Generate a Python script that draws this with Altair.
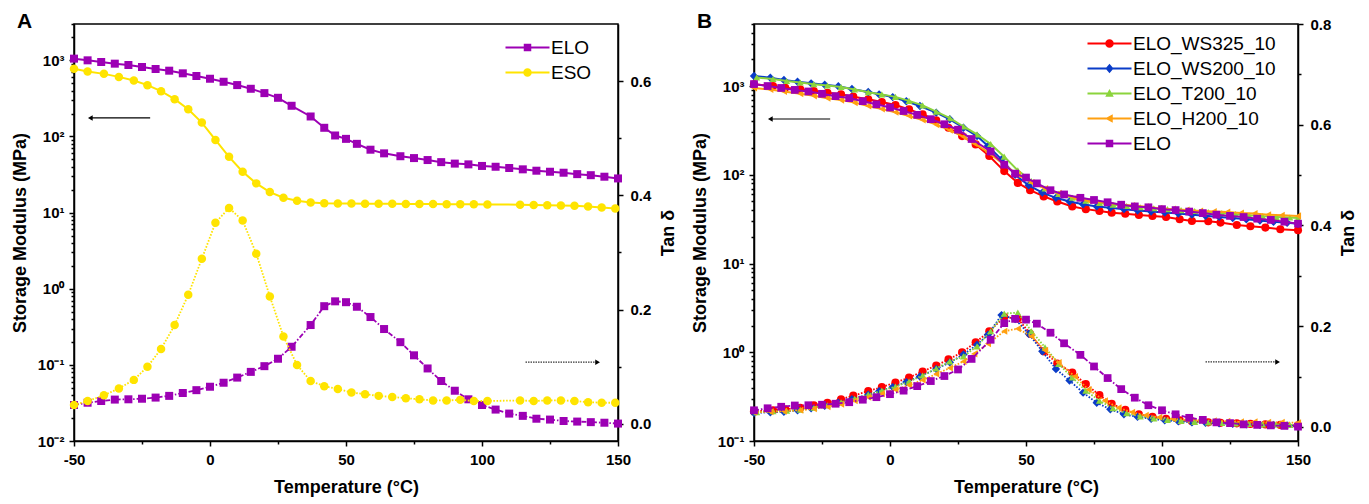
import altair as alt
import pandas as pd

FONT = "Liberation Sans"

# ---------------- Panel A data ----------------
elo_T = [-50, -45, -40, -35, -30, -25, -20, -15, -10, -5, 0, 5, 10, 15, 20, 25, 30, 37, 42, 46,
         50, 54, 59, 64, 70, 75, 80, 85, 90, 95, 100, 105, 110, 115, 120, 125, 130, 135, 140, 145, 150]
elo_E = [1052, 1000, 951, 904, 868, 817, 769, 731, 675, 622, 573, 523, 473, 423, 371, 322, 253, 183, 130, 103,
         93, 80, 67, 60, 55, 52, 49, 46, 44, 43, 41, 40, 38.5, 37, 35.5, 34.4, 33.4, 32, 31, 29.6, 28.1]
elo_tan = [0.033, 0.037, 0.040, 0.0425, 0.043, 0.044, 0.046, 0.049, 0.054, 0.059, 0.065, 0.072, 0.081, 0.091,
           0.101, 0.114, 0.135, 0.173, 0.206, 0.2145, 0.213, 0.205, 0.187, 0.166, 0.143, 0.120, 0.097, 0.075,
           0.058, 0.043, 0.033, 0.025, 0.018, 0.014, 0.009, 0.0075, 0.005, 0.004, 0.003, 0.002, 0.0005]

eso_T = [-50, -45, -39, -33.5, -28, -23, -18, -13, -8, -3, 2, 7, 12, 17, 22, 27, 32, 37, 42, 47,
         52, 57, 62, 67, 72, 77, 82, 87, 92, 97, 102, 114, 119, 124, 129, 134, 139, 144, 149]
eso_E = [773, 713, 664, 606, 542, 472, 393, 309, 228, 152, 90, 54, 34.4, 24.2, 18.6, 15.7, 14.3, 13.6, 13.3, 13.2,
         13.2, 13.1, 13.1, 13.1, 13.0, 13.0, 13.0, 12.9, 12.9, 12.9, 12.8, 12.7, 12.6, 12.5, 12.4, 12.3, 12.0, 11.7, 11.3]
eso_tan = [0.033, 0.040, 0.050, 0.062, 0.077, 0.100, 0.131, 0.173, 0.226, 0.289, 0.352, 0.378, 0.356, 0.298,
           0.223, 0.153, 0.103, 0.075, 0.066, 0.061, 0.055, 0.052, 0.049, 0.047, 0.045, 0.043, 0.041, 0.041,
           0.042, 0.040, 0.040, 0.041, 0.040, 0.041, 0.041, 0.040, 0.038, 0.037, 0.037]

# ---------------- Panel B data ----------------
ws325_T = [-50, -43, -38.5, -33, -28, -23, -18, -13.5, -8, -3, 2, 7, 12, 17, 21.5, 26.5, 31.5, 36.5, 42, 47,
           51.5, 56.5, 61.5, 67, 72, 77, 81.5, 86.5, 91.5, 96.5, 101.5, 106.5, 111, 117, 121.5, 127.5, 132.5,
           138, 143.5, 150]
ws325_E = [1045, 1000, 957, 917, 879, 841, 806, 759, 708, 661, 611, 546, 480, 411, 339, 273, 220, 163, 110, 81,
           67, 57, 50, 44, 41, 39, 37.4, 36.4, 35.2, 34.3, 33.5, 31.5, 30.1, 29.9, 28.9, 27.2, 26.3, 25.4, 24.3, 23.7]
ws325_tan = [0.031, 0.033, 0.035, 0.038, 0.043, 0.048, 0.055, 0.062, 0.071, 0.079, 0.088, 0.098, 0.110, 0.122,
             0.134, 0.148, 0.168, 0.190, 0.218, 0.215, 0.185, 0.150, 0.126, 0.108, 0.085, 0.063, 0.046, 0.034,
             0.025, 0.020, 0.016, 0.013, 0.011, 0.009, 0.008, 0.007, 0.006, 0.005, 0.004, 0.003]

ws200_T = [-50, -44, -39, -34, -29, -24, -19, -14, -8, -4, 1, 6, 11, 17, 22, 27, 32, 36, 41, 46,
           51, 56, 61, 66, 71, 76, 81, 86, 91, 96, 101, 106, 111, 116, 121, 126, 131, 136, 141, 146, 150]
ws200_E = [1297, 1241, 1169, 1119, 1072, 1035, 993, 925, 856, 806, 751, 673, 596, 501, 422, 339, 273, 211, 149, 100,
           76, 63, 55, 50, 46.5, 44, 42.5, 41, 39.5, 38.5, 37.5, 36.5, 35.5, 34.5, 33.5, 32.5, 31.5, 30.5, 29.5,
           28.8, 28]
ws200_tan = [0.028, 0.029, 0.030, 0.033, 0.037, 0.042, 0.048, 0.055, 0.064, 0.071, 0.079, 0.089, 0.100, 0.115,
             0.128, 0.144, 0.163, 0.183, 0.222, 0.214, 0.185, 0.150, 0.115, 0.092, 0.068, 0.048, 0.035, 0.025,
             0.020, 0.016, 0.013, 0.011, 0.009, 0.008, 0.007, 0.006, 0.005, 0.004, 0.004, 0.003, 0.003]

t200_T = [-49, -43, -38, -33, -28, -23, -18, -13, -8, -3, 2, 7, 12, 17, 22, 27, 32, 37, 42, 47,
          52, 57, 62, 67, 72, 77, 82, 87, 92, 97, 102, 107, 112, 117, 122, 127, 132, 137, 142, 147, 150]
t200_E = [1250, 1200, 1140, 1095, 1050, 1015, 975, 915, 850, 805, 755, 680, 605, 515, 435, 350, 285, 222, 160, 112,
          85, 70, 61, 55, 51, 48, 46, 44.5, 43, 42, 41, 40, 39, 38, 37, 36, 35, 34.2, 33.5, 33, 32.5]
t200_tan = [0.029, 0.031, 0.032, 0.034, 0.038, 0.043, 0.049, 0.056, 0.064, 0.072, 0.080, 0.090, 0.102, 0.116,
            0.130, 0.140, 0.160, 0.190, 0.225, 0.227, 0.190, 0.158, 0.125, 0.098, 0.072, 0.052, 0.037, 0.027,
            0.021, 0.017, 0.014, 0.012, 0.010, 0.009, 0.008, 0.007, 0.006, 0.005, 0.005, 0.004, 0.004]

h200_T = [-50, -44, -39, -33, -28, -23, -18, -13, -8, -3, 2, 7, 12, 17, 22, 27, 31, 36, 42, 47,
          52, 57, 62, 68, 73, 79, 84, 89, 94, 99, 104, 109, 114, 119, 124, 129, 134, 139, 144, 150]
h200_E = [950, 915, 866, 818, 775, 730, 694, 650, 597, 552, 507, 460, 415, 367, 318, 268, 225, 180, 130, 100,
          82, 70, 62, 55, 51, 48.5, 46.5, 45, 43.5, 42, 41, 40, 39, 38.5, 38, 37, 36.5, 35.5, 35, 34.4]
h200_tan = [0.029, 0.030, 0.031, 0.033, 0.036, 0.040, 0.045, 0.052, 0.059, 0.066, 0.074, 0.083, 0.093, 0.105,
            0.117, 0.130, 0.145, 0.165, 0.190, 0.195, 0.180, 0.152, 0.128, 0.100, 0.074, 0.052, 0.038, 0.029,
            0.023, 0.019, 0.016, 0.014, 0.013, 0.012, 0.011, 0.010, 0.010, 0.009, 0.009, 0.008]

# annotation arrows (data units)
arrA_mod_T = [-22.0, -44.0]
arrA_mod_E = 175.0
arrA_tan_T = [116.0, 142.5]
arrA_tan_v = 0.108
arrB_mod_T = [-22.0, -44.0]
arrB_mod_E = 425.0
arrB_tan_T = [116.0, 142.5]
arrB_tan_v = 0.129

# axis tick values
x_major_vals = [-50, 0, 50, 100, 150]
x_minor_vals = [-25, 25, 75, 125]
logA_major = [0.01, 0.1, 1, 10, 100, 1000]
logA_minor = [m * d for d in [0.01, 0.1, 1, 10, 100] for m in range(2, 10)] + [2000, 3000]
logB_major = [0.1, 1, 10, 100, 1000]
logB_minor = [m * d for d in [0.1, 1, 10, 100] for m in range(2, 10)] + [2000, 3000, 4000, 5000]
tanA_major = [0.0, 0.2, 0.4, 0.6]
tanA_minor = [0.1, 0.3, 0.5]
tanB_major = [0.0, 0.2, 0.4, 0.6, 0.8]
tanB_minor = [0.1, 0.3, 0.5, 0.7]

C_ELO = "#9C00B4"
C_ESO = "#FFE400"
C_RED = "#FF0000"
C_BLUE = "#0A3CC8"
C_GREEN = "#8BD43C"
C_ORANGE = "#FFA010"

LINE_P = "M-4.4,-0.22H4.4V0.22H-4.4Z"
P_SQUARE = LINE_P + "M-0.75,-0.75H0.75V0.75H-0.75Z"
P_CIRCLE = LINE_P + "M0.85,0A0.85,0.85,0,1,1,-0.85,0A0.85,0.85,0,1,1,0.85,0Z"
P_DIAMOND = LINE_P + "M0,-0.95L0.8,0L0,0.95L-0.8,0Z"
P_TRIUP = LINE_P + "M0,-0.9L0.85,0.65L-0.85,0.65Z"
P_TRILEFT = LINE_P + "M-0.9,0L0.65,-0.85L0.65,0.85Z"

SUP_EXPR = ("'10' + (datum.value > 500 ? '\u00b3' : datum.value > 50 ? '\u00b2' : datum.value > 5 ? '\u00b9' : "
            "datum.value > 0.5 ? '\u2070' : datum.value > 0.05 ? '\u207b\u00b9' : '\u207b\u00b2')")

W, H = 544, 417


def make_panel(label, mod_series, tan_series, log_dom, log_major, log_minor, tan_dom, tan_major, tan_minor,
               leg_names, leg_colors, leg_paths, leg_x, leg_y, arr_mod, arr_tan):
    xs = alt.Scale(domain=[-50, 150], nice=False)
    x_major = alt.X("T:Q", scale=xs, axis=alt.Axis(
        orient="bottom", values=x_major_vals, labelExpr="'' + datum.value", title="Temperature (\u00b0C)",
        tickSize=5, labelPadding=6, titlePadding=11, labelFlush=False, labelOverlap=False, grid=False))
    x_minor = alt.X("T:Q", scale=xs, axis=alt.Axis(
        orient="bottom", values=x_minor_vals, labels=False, domain=False, title=None, tickSize=3, grid=False))
    x_none = alt.X("T:Q", scale=xs, axis=None)

    ys_log = alt.Scale(type="log", domain=log_dom, nice=False)
    y_log = alt.Y("E:Q", scale=ys_log, axis=alt.Axis(
        orient="left", values=log_major, labelExpr=SUP_EXPR, title="Storage Modulus (MPa)", labelFontSize=15,
        tickSize=5, labelPadding=5, titlePadding=8, labelFlush=False, labelOverlap=False, grid=False))
    y_log_minor = alt.Y("E:Q", scale=ys_log, axis=alt.Axis(
        orient="left", values=log_minor, labels=False, domain=False, title=None, tickSize=3, grid=False))

    ys_tan = alt.Scale(domain=tan_dom, nice=False, zero=False)
    y_tan = alt.Y("tan:Q", scale=ys_tan, axis=alt.Axis(
        orient="right", values=tan_major, format=".1f", title="Tan \u03b4", titleAngle=270, titleBaseline="top",
        tickSize=5, labelPadding=7, titlePadding=9, labelFlush=False, labelOverlap=False, grid=False))
    y_tan_minor = alt.Y("tan:Q", scale=ys_tan, axis=alt.Axis(
        orient="right", values=tan_minor, labels=False, domain=False, title=None, tickSize=3, grid=False))

    mod_layers = []
    for (T, E, color, shape, size) in mod_series:
        df = pd.DataFrame({"T": T, "E": E})
        base = alt.Chart(df)
        mod_layers.append(base.mark_line(color=color, strokeWidth=2, clip=False).encode(x=x_major, y=y_log))
        mod_layers.append(base.mark_point(shape=shape, filled=True, size=size, color=color, opacity=1,
                                          clip=False).encode(x=x_major, y=y_log))
    # arrow pointing to the left axis
    adf = pd.DataFrame({"T": [arr_mod[0][0]], "T2": [arr_mod[0][1]], "E": [arr_mod[1]]})
    mod_layers.append(alt.Chart(adf).mark_rule(color="black", strokeWidth=1.2).encode(
        x=x_major, x2="T2:Q", y=y_log))
    hdf = pd.DataFrame({"T": [arr_mod[0][1]], "E": [arr_mod[1]]})
    mod_layers.append(alt.Chart(hdf).mark_point(shape="triangle-left", filled=True, size=30, color="black",
                                                opacity=1).encode(x=x_major, y=y_log))
    # legend (built from the series names through color/shape scales)
    ldf = pd.DataFrame({"name": leg_names, "T": [-300] * len(leg_names), "E": [100] * len(leg_names)})
    leg = alt.Legend(orient="none", legendX=leg_x, legendY=leg_y, title=None, symbolSize=100,
                     symbolStrokeWidth=0, symbolOffset=17, labelOffset=14, padding=0, rowPadding=5,
                     labelFont=FONT, labelFontSize=19, labelColor="black", labelLimit=400)
    mod_layers.append(alt.Chart(ldf).mark_point(filled=True, size=100, clip=True, opacity=1, strokeWidth=0).encode(
        x=x_major, y=y_log,
        color=alt.Color("name:N", scale=alt.Scale(domain=leg_names, range=leg_colors), legend=leg, sort=leg_names),
        shape=alt.Shape("name:N", scale=alt.Scale(domain=leg_names, range=leg_paths), legend=leg, sort=leg_names),
    ))
    # panel letter
    mod_layers.append(alt.Chart(pd.DataFrame({"label": [label]})).mark_text(
        align="left", baseline="alphabetic", font=FONT, fontSize=21, fontWeight="bold", color="black").encode(
        x=alt.value(-57), y=alt.value(4), text="label:N"))
    mod_group = alt.layer(*mod_layers)

    minor_l = alt.Chart(pd.DataFrame({"T": [0], "E": [1]})).mark_point(opacity=0).encode(x=x_minor, y=y_log_minor)

    tan_layers = []
    for (T, V, color, shape, size, dash) in tan_series:
        df = pd.DataFrame({"T": T, "tan": V})
        base = alt.Chart(df)
        tan_layers.append(base.mark_line(color=color, strokeWidth=1.8, strokeDash=dash, clip=False).encode(
            x=x_none, y=y_tan))
        tan_layers.append(base.mark_point(shape=shape, filled=True, size=size, color=color, opacity=1,
                                          clip=False).encode(x=x_none, y=y_tan))
    tdf = pd.DataFrame({"T": [arr_tan[0][0]], "T2": [arr_tan[0][1]], "tan": [arr_tan[1]]})
    tan_layers.append(alt.Chart(tdf).mark_rule(color="#333333", strokeWidth=1.3, strokeDash=[1.5, 1]).encode(
        x=x_none, x2="T2:Q", y=y_tan))
    thdf = pd.DataFrame({"T": [arr_tan[0][1]], "tan": [arr_tan[1]]})
    tan_layers.append(alt.Chart(thdf).mark_point(shape="triangle-right", filled=True, size=30, color="black",
                                                 opacity=1).encode(x=x_none, y=y_tan))
    tan_group = alt.layer(*tan_layers)

    minor_r = alt.Chart(pd.DataFrame({"T": [0], "tan": [0.1]})).mark_point(opacity=0).encode(
        x=x_none, y=y_tan_minor)

    panel = alt.layer(mod_group, minor_l, tan_group, minor_r).resolve_scale(
        y="independent").resolve_axis(x="independent", y="independent").properties(width=W, height=H)
    return panel


DASH_DOT = [5, 2, 1.5, 2]
DOT = [1.6, 1.6]

panel_a = make_panel(
    "A",
    [(elo_T, elo_E, C_ELO, "square", 64), (eso_T, eso_E, C_ESO, "circle", 72)],
    [(elo_T, elo_tan, C_ELO, "square", 64, DASH_DOT), (eso_T, eso_tan, C_ESO, "circle", 72, DOT)],
    [0.01, 3000], logA_major, logA_minor, [-0.03, 0.7], tanA_major, tanA_minor,
    ["ELO", "ESO"], [C_ELO, C_ESO], [P_SQUARE, P_CIRCLE], 427, 14,
    (arrA_mod_T, arrA_mod_E), (arrA_tan_T, arrA_tan_v))

panel_b = make_panel(
    "B",
    [(ws325_T, ws325_E, C_RED, "circle", 66), (ws200_T, ws200_E, C_BLUE, "diamond", 70),
     (t200_T, t200_E, C_GREEN, "triangle-up", 50), (h200_T, h200_E, C_ORANGE, "triangle-left", 50),
     (elo_T, elo_E, C_ELO, "square", 60)],
    [(ws325_T, ws325_tan, C_RED, "circle", 66, DOT), (ws200_T, ws200_tan, C_BLUE, "diamond", 70, DOT),
     (t200_T, t200_tan, C_GREEN, "triangle-up", 50, DOT), (h200_T, h200_tan, C_ORANGE, "triangle-left", 50, DOT),
     (elo_T, elo_tan, C_ELO, "square", 60, DASH_DOT)],
    [0.1, 5000], logB_major, logB_minor, [-0.028, 0.8], tanB_major, tanB_minor,
    ["ELO_WS325_10", "ELO_WS200_10", "ELO_T200_10", "ELO_H200_10", "ELO"],
    [C_RED, C_BLUE, C_GREEN, C_ORANGE, C_ELO],
    [P_CIRCLE, P_DIAMOND, P_TRIUP, P_TRILEFT, P_SQUARE], 329, 10,
    (arrB_mod_T, arrB_mod_E), (arrB_tan_T, arrB_tan_v))

chart = alt.hconcat(panel_a, panel_b, spacing=136, bounds="flush").resolve_scale(
    color="independent", shape="independent").properties(
    padding={"left": 2, "top": 2, "right": 0, "bottom": 0}).configure_view(
    stroke="black", strokeWidth=1.5).configure_axis(
    domainColor="black", domainWidth=1.5, tickColor="black", tickWidth=1.5,
    labelFont=FONT, labelFontSize=15, labelFontWeight="bold", labelColor="black",
    titleFont=FONT, titleFontSize=18, titleFontWeight="bold", titleColor="black")

chart.save("out.html", embed_options={"renderer": "svg", "actions": False})
